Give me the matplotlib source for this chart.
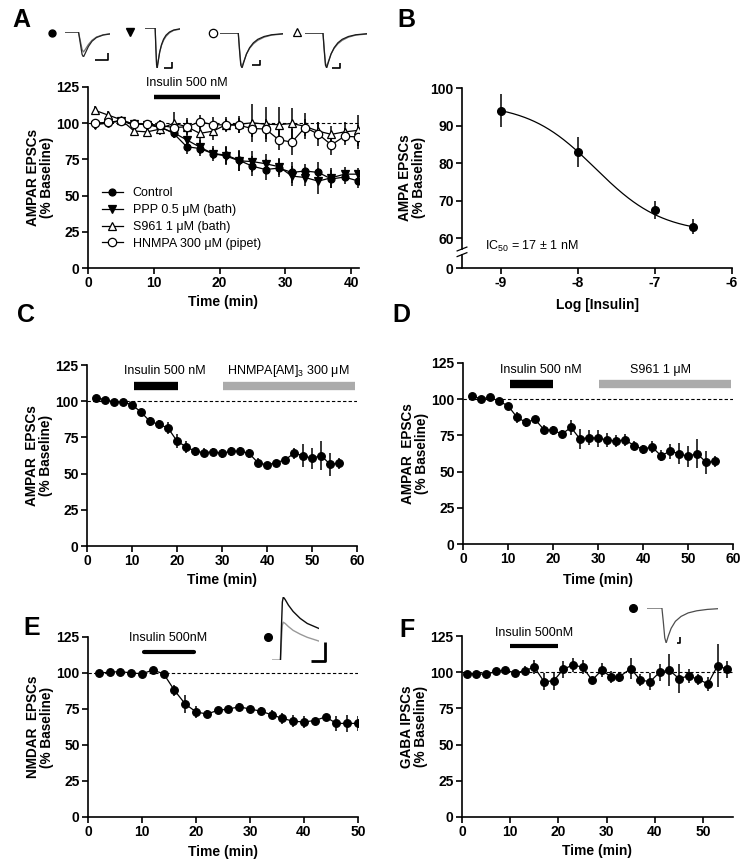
"""
 insulin / AMPAR-NMDAR-GABA time courses, 6 panels
"""
import matplotlib.pyplot as plt
import numpy as np

plt.rcParams['font.family'] = ['Liberation Sans', 'DejaVu Sans']
plt.rcParams['font.weight'] = 'bold'
plt.rcParams['axes.labelweight'] = 'bold'
plt.rcParams['axes.unicode_minus'] = False
plt.rcParams['mathtext.default'] = 'regular'
plt.rcParams['axes.linewidth'] = 1.2

W, H = 749, 868  # 输出像素尺寸 (dpi=100)

# ---------------- 数据 ----------------
# A: AMPAR EPSCs, insulin 500 nM, 对照 / 受体阻断剂
t_a = list(range(1, 42, 2))
ctrl_a = [100, 100.4, 101.5, 99.8, 99.3, 97.5, 93, 83.8, 82.5, 79, 78, 74.3, 70.3, 68, 69, 66, 67, 66, 61.5, 62.8, 60.2]
ctrl_a_err = [3, 3, 2, 2, 2, 2, 3, 5, 5, 4, 6, 7, 7, 7, 6, 7, 5, 7, 6, 5, 5]
ppp_a = [99, 100, 101.8, 99.5, 99, 97, 93.5, 88.5, 83.5, 79, 77.3, 74, 73.5, 72, 70, 63.5, 62.5, 60, 62.3, 64.8, 64.8]
ppp_a_err = [3, 2, 2, 2, 2, 3, 3, 4, 5, 5, 6, 7, 7, 7, 6, 7, 6, 9, 7, 5, 4]
s961_a = [109, 105.7, 102.5, 94.6, 94, 96, 100, 97.6, 93, 94.5, 99, 99.3, 100.3, 99.3, 99, 99.8, 97.8, 94.5, 92.3, 94, 95]
s961_a_err = [3, 3, 2, 3, 3, 4, 8, 6, 5, 6, 5, 6, 13, 12, 12, 11, 9, 6, 6, 7, 11]
hnmpa_a = [100, 100.5, 101.8, 99.5, 99.5, 98.5, 97, 97.5, 101, 99, 98.8, 98.5, 96.3, 96, 88.5, 87, 97, 92.5, 85, 91, 90.5]
hnmpa_a_err = [2, 2, 2, 2, 3, 4, 4, 5, 5, 5, 4, 5, 6, 7, 7, 9, 6, 8, 7, 6, 8]
legend_a = ['Control', 'PPP 0.5 μM (bath)', 'S961 1 μM (bath)', 'HNMPA 300 μM (pipet)']

# B: 剂量-反应
log_ins = [-9, -8, -7, -6.5]
ampa_b = [94, 83, 67.5, 63]
ampa_b_err = [4.5, 4, 2.5, 2]
fit_top, fit_bottom, log_ic50 = 95.9, 61.2, -7.77  # IC50 = 17 nM

# C: insulin 后加 HNMPA[AM]3
t_cd = list(range(2, 57, 2))
ampa_c = [102.5, 101, 99.5, 99.5, 97.5, 92.5, 86, 84, 81.5, 72.5, 68.5, 65.5, 64.5, 65, 64,
          65.5, 65.5, 64, 57.5, 56, 57.5, 59.5, 64, 62.5, 60.5, 62.5, 56.5, 57]
ampa_c_err = [1, 1, 1, 1, 1, 2, 3, 3, 4, 5, 4, 3, 3, 3, 3, 3, 3, 3, 3, 1, 1, 2, 4, 8, 7, 10, 8, 4]

# D: insulin 后加 S961
ampa_d = [102.5, 100, 101.5, 98.5, 95.5, 87.5, 84, 86, 79, 78.5, 76, 80.5, 72.5, 73.5, 73,
          72, 71, 72, 68, 65.5, 67, 61, 64, 62.5, 60.5, 62.5, 56.5, 57]
ampa_d_err = [1, 1, 1, 1, 1, 4, 3, 2, 3, 3, 3, 5, 7, 5, 6, 5, 4, 4, 3, 3, 4, 4, 5, 7, 7, 10, 8, 4]

# E: NMDAR EPSCs
t_e = list(range(2, 51, 2))
nmda_e = [100, 100.5, 101, 100, 99.5, 102, 99.5, 88, 78.5, 73, 71.5, 74, 75, 76.5, 75,
          73.5, 71, 68.5, 66.5, 66, 67, 69.5, 65, 65, 65]
nmda_e_err = [2, 1, 1, 2, 1, 1, 2, 4, 6, 4, 3, 2, 2, 3, 2, 3, 3, 4, 4, 4, 2, 2, 5, 6, 5]

# F: GABA IPSCs
t_f = [1, 3, 5, 7, 9, 11, 13, 15, 17, 19, 21, 23, 25, 27, 29, 31, 32.5, 35, 37, 39, 41, 43, 45, 47, 49, 51, 53, 55]
gaba_f = [99, 99, 98.5, 100.5, 101.5, 99.5, 101, 103.5, 93.5, 94, 102, 105, 103.5, 94.5, 101.5,
          96.5, 96.5, 102.5, 94.5, 93.5, 100, 101.5, 95.5, 97.5, 95, 92, 104.5, 102]
gaba_f_err = [2, 2, 1, 1, 1, 1, 3, 5, 6, 6, 6, 5, 5, 2, 5, 4, 3, 7, 4, 6, 6, 11, 10, 5, 4, 5, 15, 6]

# 示例电流波形 (归一化形状)
epsc_t = [0, 0.29, 0.31, 0.33, 0.35, 0.38, 0.42, 0.47, 0.53, 0.60, 0.70, 0.82, 1.0]
epsc_v = [0, 0, -0.5, -0.92, -1.0, -0.82, -0.6, -0.42, -0.28, -0.18, -0.1, -0.05, -0.02]
epsc_v2 = [0, 0, -0.45, -0.86, -0.95, -0.8, -0.6, -0.44, -0.31, -0.21, -0.12, -0.06, -0.03]
ctrl_tr_t = [0, 0.3, 0.34, 0.38, 0.41, 0.45, 0.52, 0.6, 0.7, 0.85, 1.0]
ctrl_tr_v = [0, 0, -0.45, -0.9, -1.0, -0.85, -0.58, -0.37, -0.22, -0.12, -0.08]
ctrl_tr_v2 = [0, 0, -0.35, -0.7, -0.8, -0.7, -0.5, -0.33, -0.2, -0.11, -0.07]
nmda_tr_t = [0, 0.18, 0.20, 0.22, 0.24, 0.28, 0.35, 0.45, 0.6, 0.75, 1.0]
nmda_tr_v = [0, 0, 0.5, 0.92, 1.0, 0.96, 0.87, 0.77, 0.66, 0.58, 0.5]
nmda_tr_v2 = [0, 0, 0.3, 0.55, 0.6, 0.58, 0.53, 0.47, 0.41, 0.36, 0.3]
gaba_tr_t = [0, 0.21, 0.23, 0.25, 0.27, 0.30, 0.34, 0.40, 0.48, 0.58, 0.70, 0.85, 1.0]
gaba_tr_v = [0, 0, -0.4, -0.85, -1.0, -0.8, -0.58, -0.38, -0.24, -0.14, -0.08, -0.04, -0.02]

fig = plt.figure(figsize=(W / 100, H / 100), dpi=100)


def add_ax(x0, y0, x1, y1):
    # 像素坐标 (左, 上, 右, 下) -> figure 坐标
    return fig.add_axes([x0 / W, 1 - y1 / H, (x1 - x0) / W, (y1 - y0) / H])


def frame(ax, xlim, xticks, ylab, xlab='Time (min)', xlab_off=34):
    ax.set_xlim(*xlim)
    ax.set_xticks(xticks)
    ax.set_ylim(0, 125)
    ax.set_yticks([0, 25, 50, 75, 100, 125])
    ax.spines[['top', 'right']].set_visible(False)
    ax.tick_params(length=4, width=1.2, labelsize=10, pad=2)
    h = ax.get_position().height * H
    w = ax.get_position().width * W
    ax.set_ylabel(ylab, fontsize=9.8, linespacing=1.05)
    ax.yaxis.set_label_coords(-48 / w, 0.5)
    ax.yaxis.label.set_va('center')
    ax.set_xlabel(xlab, fontsize=10)
    ax.xaxis.set_label_coords(0.5, -xlab_off / h)
    ax.xaxis.label.set_va('center')
    ax.axhline(100, color='k', ls=(0, (3, 2)), lw=0.8, zorder=1)


def course(ax, t, y, e, marker='o', mfc='k', ms=5.5, label=None):
    ax.errorbar(t, y, yerr=e, fmt='none', ecolor='k', elinewidth=1.1, capsize=0, zorder=2)
    ax.plot(t, y, color='k', lw=0.9, marker=marker, mfc=mfc, mec='k', mew=0.9, ms=ms,
            label=label, zorder=3)


def bar(ax, x0, x1, y, color='k', lw=6, cap='butt'):
    ax.plot([x0, x1], [y, y], color=color, lw=lw, solid_capstyle=cap, clip_on=False, zorder=4)


def inset(x0, y0, x1, y1, ylim=(-1, 0)):
    ax = add_ax(x0, y0, x1, y1)
    ax.set_xlim(0, 1)
    ax.set_ylim(*ylim)
    ax.axis('off')
    return ax


def scalebar(ax, xa, xb, ya, yb, lw=1.2):
    ax.plot([xa, xb, xb], [ya, ya, yb], color='k', lw=lw, clip_on=False, solid_capstyle='butt')


# ---------------- A ----------------
ax = add_ax(88, 87, 359, 268)
frame(ax, (0, 41.2), [0, 10, 20, 30, 40], 'AMPAR EPSCs\n(% Baseline)')
course(ax, t_a, ctrl_a, ctrl_a_err, 'o', 'k', 5, legend_a[0])
course(ax, t_a, ppp_a, ppp_a_err, 'v', 'k', 5.5, legend_a[1])
course(ax, t_a, s961_a, s961_a_err, '^', 'w', 6, legend_a[2])
course(ax, t_a, hnmpa_a, hnmpa_a_err, 'o', 'w', 6, legend_a[3])
bar(ax, 10, 20, 117.9, lw=3.2)
ax.text(15, 127.5, 'Insulin 500 nM', ha='center', va='center', fontsize=9, fontweight='normal', clip_on=False)
ax.legend(loc='upper left', bbox_to_anchor=(0.05, 0.445), frameon=False, borderpad=0, borderaxespad=0,
          handlelength=1.7, handletextpad=0.8, labelspacing=0.38, prop={'weight': 'normal', 'size': 9})

# A 示例波形
tr = inset(65, 32, 110, 57)
tr.plot(ctrl_tr_t, ctrl_tr_v2, color='0.45', lw=0.9)
tr.plot(ctrl_tr_t, ctrl_tr_v, color='0.15', lw=0.9)
tr.plot([-0.3], [-0.04], 'o', color='k', ms=5, clip_on=False)
scalebar(tr, 0.67, 0.96, -1.12, -0.84)

tr = inset(145, 28, 180, 68)
tr.plot(epsc_t, epsc_v2, color='0.45', lw=0.9)
tr.plot(epsc_t, epsc_v, color='0.1', lw=0.9)
tr.plot([-0.43], [-0.1], 'v', color='k', ms=5.5, clip_on=False)
scalebar(tr, 0.54, 0.77, -1.0, -0.85)

tr = inset(220, 33, 283, 68)
tr.plot(epsc_t, epsc_v2, color='0.45', lw=0.9)
tr.plot(epsc_t, epsc_v, color='0.1', lw=0.9)
tr.plot([-0.11], [0], 'o', mfc='w', mec='k', ms=6, mew=0.9, clip_on=False)
scalebar(tr, 0.51, 0.63, -0.91, -0.77)

tr = inset(305, 33, 367, 68)
tr.plot(epsc_t, epsc_v2, color='0.45', lw=0.9)
tr.plot(epsc_t, epsc_v, color='0.1', lw=0.9)
tr.plot([-0.13], [0.03], '^', mfc='w', mec='k', ms=6, mew=0.9, clip_on=False)
scalebar(tr, 0.44, 0.56, -1.0, -0.86)

# ---------------- B ----------------
axb = add_ax(462, 88, 732, 249)
axb0 = add_ax(462, 255, 732, 268)
for a in (axb, axb0):
    a.set_xlim(-9.5, -6)
    a.spines[['top', 'right']].set_visible(False)
    a.tick_params(length=4, width=1.2, labelsize=10, pad=2)
axb.set_ylim(57.07, 100)
axb.set_yticks([60, 70, 80, 90, 100])
axb.spines['bottom'].set_visible(False)
axb.tick_params(axis='x', bottom=False, labelbottom=False)
axb0.set_ylim(0, 1)
axb0.set_yticks([0])
axb0.set_xticks([-9, -8, -7, -6])
axb0.set_xlabel('Log [Insulin]', fontsize=10)
axb0.xaxis.set_label_coords(0.5, -37 / 13)
axb0.xaxis.label.set_va('center')

xf = np.linspace(log_ins[0], log_ins[-1], 200)
yf = fit_bottom + (fit_top - fit_bottom) / (1 + 10 ** (xf - log_ic50))
axb.plot(xf, yf, color='k', lw=0.9)
axb.errorbar(log_ins, ampa_b, yerr=ampa_b_err, fmt='o', color='k', ms=5.5, elinewidth=1.1, capsize=0)
axb.text(0.085, 0.015, 'IC$_{50}$ = 17 ± 1 nM', transform=axb.transAxes, ha='left', va='center',
         fontsize=9, fontweight='normal')
# 断轴标记
for dy in (0.0, -0.035):
    axb.plot([-0.018, 0.018], [dy - 0.012, dy + 0.012], transform=axb.transAxes, color='k',
             lw=0.9, clip_on=False)
fig.text(412 / W, 1 - 178 / H, 'AMPA EPSCs\n(% Baseline)', rotation=90, ha='center', va='center',
         fontsize=9.8, linespacing=1.05)

# ---------------- C ----------------
ax = add_ax(87, 365, 357, 546)
frame(ax, (0, 60), [0, 10, 20, 30, 40, 50, 60], 'AMPAR  EPSCs\n(% Baseline)')
course(ax, t_cd, ampa_c, ampa_c_err)
bar(ax, 10.5, 20.3, 110.7)
bar(ax, 30.3, 59.5, 110.7, color='#ababab')
ax.text(17.3, 120.9, 'Insulin 500 nM', ha='center', va='center', fontsize=9, fontweight='normal')
ax.text(44.7, 120.9, 'HNMPA[AM]$_3$ 300 μM', ha='center', va='center', fontsize=9, fontweight='normal')

# ---------------- D ----------------
ax = add_ax(463, 363, 733, 544)
frame(ax, (0, 60), [0, 10, 20, 30, 40, 50, 60], 'AMPAR  EPSCs\n(% Baseline)', xlab_off=36)
course(ax, t_cd, ampa_d, ampa_d_err)
bar(ax, 10.4, 20.1, 110.5)
bar(ax, 30.3, 59.5, 110.5, color='#ababab')
ax.text(17.3, 120, 'Insulin 500 nM', ha='center', va='center', fontsize=9, fontweight='normal')
ax.text(43.8, 120, 'S961 1 μM', ha='center', va='center', fontsize=9, fontweight='normal')

# ---------------- E ----------------
ax = add_ax(88, 637, 358, 817)
frame(ax, (0, 50), [0, 10, 20, 30, 40, 50], 'NMDAR  EPSCs\n(% Baseline)', xlab_off=35)
course(ax, t_e, nmda_e, nmda_e_err)
bar(ax, 10.3, 19.7, 114.6, lw=3, cap='round')
ax.text(14.8, 124.6, 'Insulin 500nM', ha='center', va='center', fontsize=9, fontweight='normal', clip_on=False)

tr = inset(272, 597, 319, 660, ylim=(0, 1))
tr.plot(nmda_tr_t, nmda_tr_v2, color='0.6', lw=1.0)
tr.plot(nmda_tr_t[1:], nmda_tr_v[1:], color='0.05', lw=1.0)
tr.plot([-0.085], [0.37], 'o', color='k', ms=5.5, clip_on=False)
scalebar(tr, 0.83, 1.13, -0.02, 0.29, lw=2)

# ---------------- F ----------------
ax = add_ax(462, 636, 733, 817)
frame(ax, (0, 56.2), [0, 10, 20, 30, 40, 50], 'GABA IPSCs\n(% Baseline)')
course(ax, t_f, gaba_f, gaba_f_err)
bar(ax, 10, 20, 118, lw=3)
ax.text(15, 127, 'Insulin 500nM', ha='center', va='center', fontsize=9, fontweight='normal', clip_on=False)

tr = inset(647, 608, 718, 643)
tr.plot(gaba_tr_t, gaba_tr_v, color='0.3', lw=0.9)
tr.plot([-0.2], [0], 'o', color='k', ms=5.5, clip_on=False)
scalebar(tr, 0.42, 0.46, -1.0, -0.83)

# 面板字母
for s, x, y in [('A', 21, 20), ('B', 406, 20), ('C', 26, 315), ('D', 401, 315), ('E', 32, 628), ('F', 407, 630)]:
    fig.text(x / W, 1 - y / H, s, fontsize=18, ha='center', va='center')

plt.savefig('out.png', dpi=100)
plt.close()
